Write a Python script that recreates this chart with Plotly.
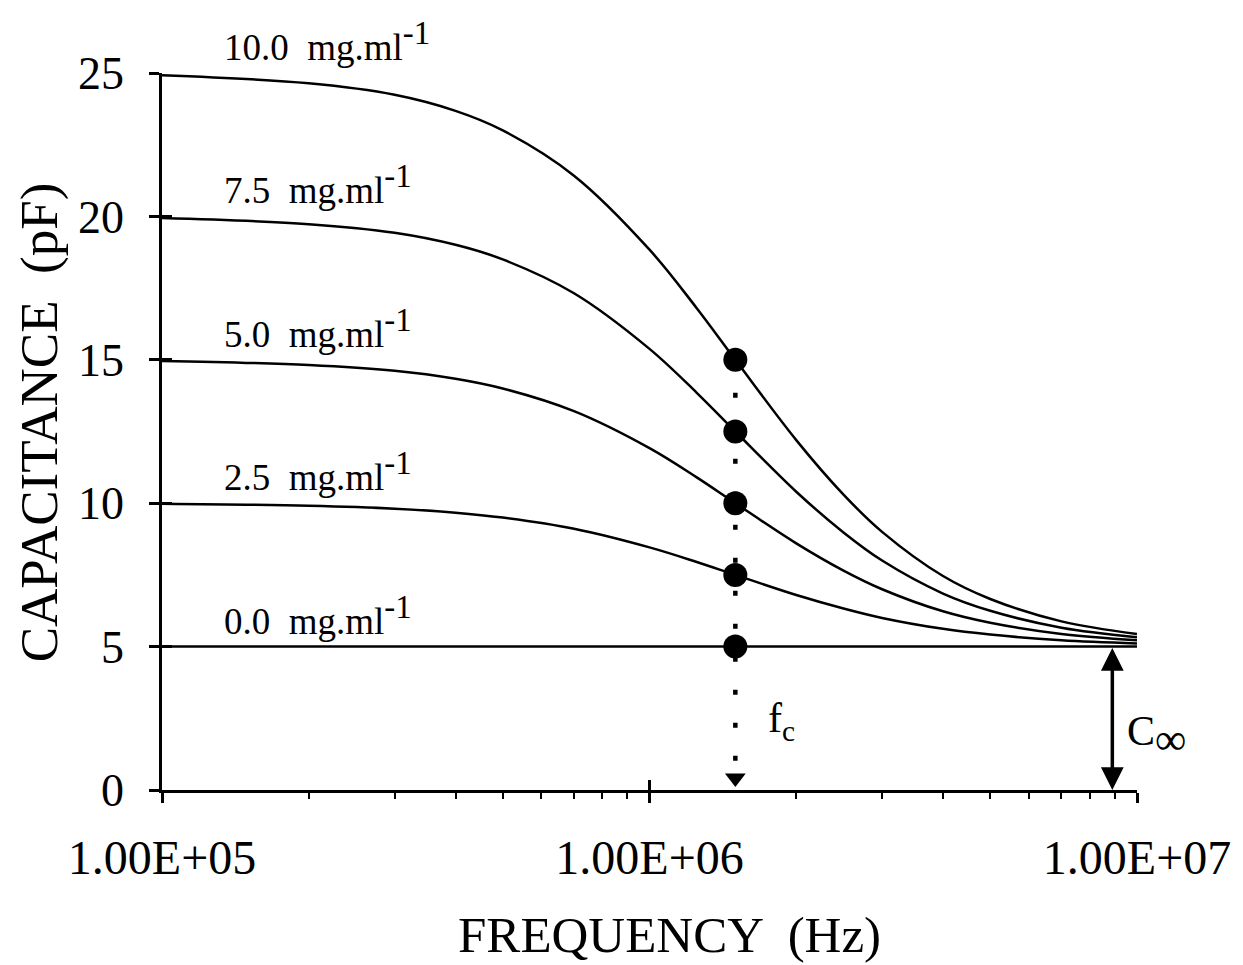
import math
import plotly.graph_objects as go

freq = [1e5, 2e5, 3e5, 4e5, 5e5, 7e5, 1e6, 1.25e6, 1.5e6, 2e6, 2.5e6, 3e6, 4e6, 5e6, 7e6, 1e7]

# capacitance (pF) for each concentration
cap_10_0 = [24.92, 24.64, 24.24, 23.68, 23.0, 21.42, 18.84, 16.8, 15.0, 12.2, 10.3, 9.0, 7.46, 6.66, 5.88, 5.44]
cap_7_5 = [19.94, 19.73, 19.43, 19.01, 18.5, 17.32, 15.38, 13.85, 12.5, 10.4, 8.98, 8.0, 6.85, 6.25, 5.66, 5.33]
cap_5_0 = [14.96, 14.82, 14.62, 14.34, 14.0, 13.21, 11.92, 10.9, 10.0, 8.6, 7.65, 7.0, 6.23, 5.83, 5.44, 5.22]
cap_2_5 = [9.98, 9.91, 9.81, 9.67, 9.5, 9.11, 8.46, 7.95, 7.5, 6.8, 6.33, 6.0, 5.62, 5.42, 5.22, 5.11]
cap_0_0 = [5.0] * len(freq)

labels = ["10.0", "7.5", "5.0", "2.5", "0.0"]
plateaus = [25, 20, 15, 10, 5]

# critical frequency points
fc = 1.5e6
fc_caps = [15, 12.5, 10, 7.5, 5]

# C-infinity arrow
c_inf_freq = 8.9e6
c_inf = 5

x_tickvals = [1e5, 1e6, 1e7]
x_ticktext = ["1.00E+05", "1.00E+06", "1.00E+07"]
x_minor = [m * d for d in (1e5, 1e6) for m in range(2, 10)]
y_tickvals = [0, 5, 10, 15, 20, 25]

FONT = "Liberation Serif"
Y_MAX = 25

fig = go.Figure()

for ys in (cap_10_0, cap_7_5, cap_5_0, cap_2_5, cap_0_0):
    fig.add_trace(go.Scatter(x=freq, y=ys, mode="lines", line=dict(color="black", width=2.5, shape="spline"),
                             showlegend=False, hoverinfo="skip"))

# dotted drop line from the top fc point to the axis
fig.add_trace(go.Scatter(x=[fc, fc], y=[fc_caps[0], 0.75], mode="lines",
                         line=dict(color="black", width=4.5, dash="5px,28px"),
                         showlegend=False, hoverinfo="skip"))
fig.add_trace(go.Scatter(x=[fc], y=[0.42], mode="markers",
                         marker=dict(symbol="triangle-down", size=18, color="black"),
                         showlegend=False, hoverinfo="skip"))

fig.add_trace(go.Scatter(x=[fc] * len(fc_caps), y=fc_caps, mode="markers",
                         marker=dict(size=24, color="black"), showlegend=False))

# dummy traces so the overlay axes (crossing ticks, minor ticks) are drawn
fig.add_trace(go.Scatter(x=[], y=[], xaxis="x2", yaxis="y2", showlegend=False))
fig.add_trace(go.Scatter(x=[], y=[], xaxis="x3", yaxis="y", showlegend=False))

ax_common = dict(showgrid=False, zeroline=False, linecolor="black", linewidth=2.5,
                 tickcolor="black", tickwidth=2.5)

# page body adds an 8px offset, so the figure is 8px smaller than the window
fig.update_layout(
    width=1235, height=957,
    plot_bgcolor="white", paper_bgcolor="white",
    margin=dict(l=154, r=103, t=65, b=175),
    font=dict(family=FONT, color="black"),
    xaxis=dict(type="log", range=[5, 7], tickvals=x_tickvals, ticktext=x_ticktext,
               ticks="outside", ticklen=10, tickfont=dict(size=48), ticklabelstandoff=14,
               showline=True, **ax_common),
    xaxis2=dict(type="log", range=[5, 7], overlaying="x", anchor="y2", tickvals=x_tickvals,
                ticks="inside", ticklen=10, showticklabels=False, showline=False, **ax_common),
    xaxis3=dict(type="log", range=[5, 7], overlaying="x", anchor="y", tickvals=x_minor,
                ticks="outside", ticklen=8, tickwidth=2, showticklabels=False, showline=False,
                showgrid=False, zeroline=False, tickcolor="black"),
    yaxis=dict(range=[0, Y_MAX], tickvals=y_tickvals, ticks="outside", ticklen=10,
               tickfont=dict(size=46), ticklabelstandoff=16, showline=True, **ax_common),
    yaxis2=dict(range=[0, Y_MAX], overlaying="y", anchor="x2", tickvals=y_tickvals,
                ticks="inside", ticklen=10, showticklabels=False, showline=False, **ax_common),
)

for lab, top in zip(labels, plateaus):
    fig.add_annotation(x=5.123, y=(top + 1.1) / Y_MAX, xref="x", yref="paper", xanchor="left", yanchor="middle",
                       text=f"{lab}  mg.ml<sup><span style='font-size:33px'>-1</span></sup>",
                       showarrow=False, font=dict(size=37))

fig.add_annotation(x=6.27, y=2.4, xref="x", yref="y", text="f<sub>c</sub>", showarrow=False,
                   font=dict(size=42))
fig.add_annotation(x=6.975, y=1.9, xref="x", yref="y", xanchor="left",
                   text="C<sub><span style='font-size:44px'>∞</span></sub>", showarrow=False,
                   font=dict(size=42))

lx = math.log10(c_inf_freq)
fig.add_annotation(x=lx, y=0, xref="x", yref="y", ax=lx, ay=c_inf, axref="x", ayref="y",
                   text="", showarrow=True, arrowhead=2, arrowside="end+start",
                   arrowsize=1.3, arrowwidth=3.5, arrowcolor="black", standoff=0, startstandoff=0)

fig.add_annotation(x=0.52, y=-0.202, xref="paper", yref="paper", text="FREQUENCY  (Hz)",
                   showarrow=False, font=dict(size=51), yanchor="middle")
fig.add_annotation(x=-0.126, y=0.513, xref="paper", yref="paper", text="CAPACITANCE  (pF)",
                   showarrow=False, font=dict(size=53), textangle=-90, xanchor="center")

fig.write_html("out.html")
